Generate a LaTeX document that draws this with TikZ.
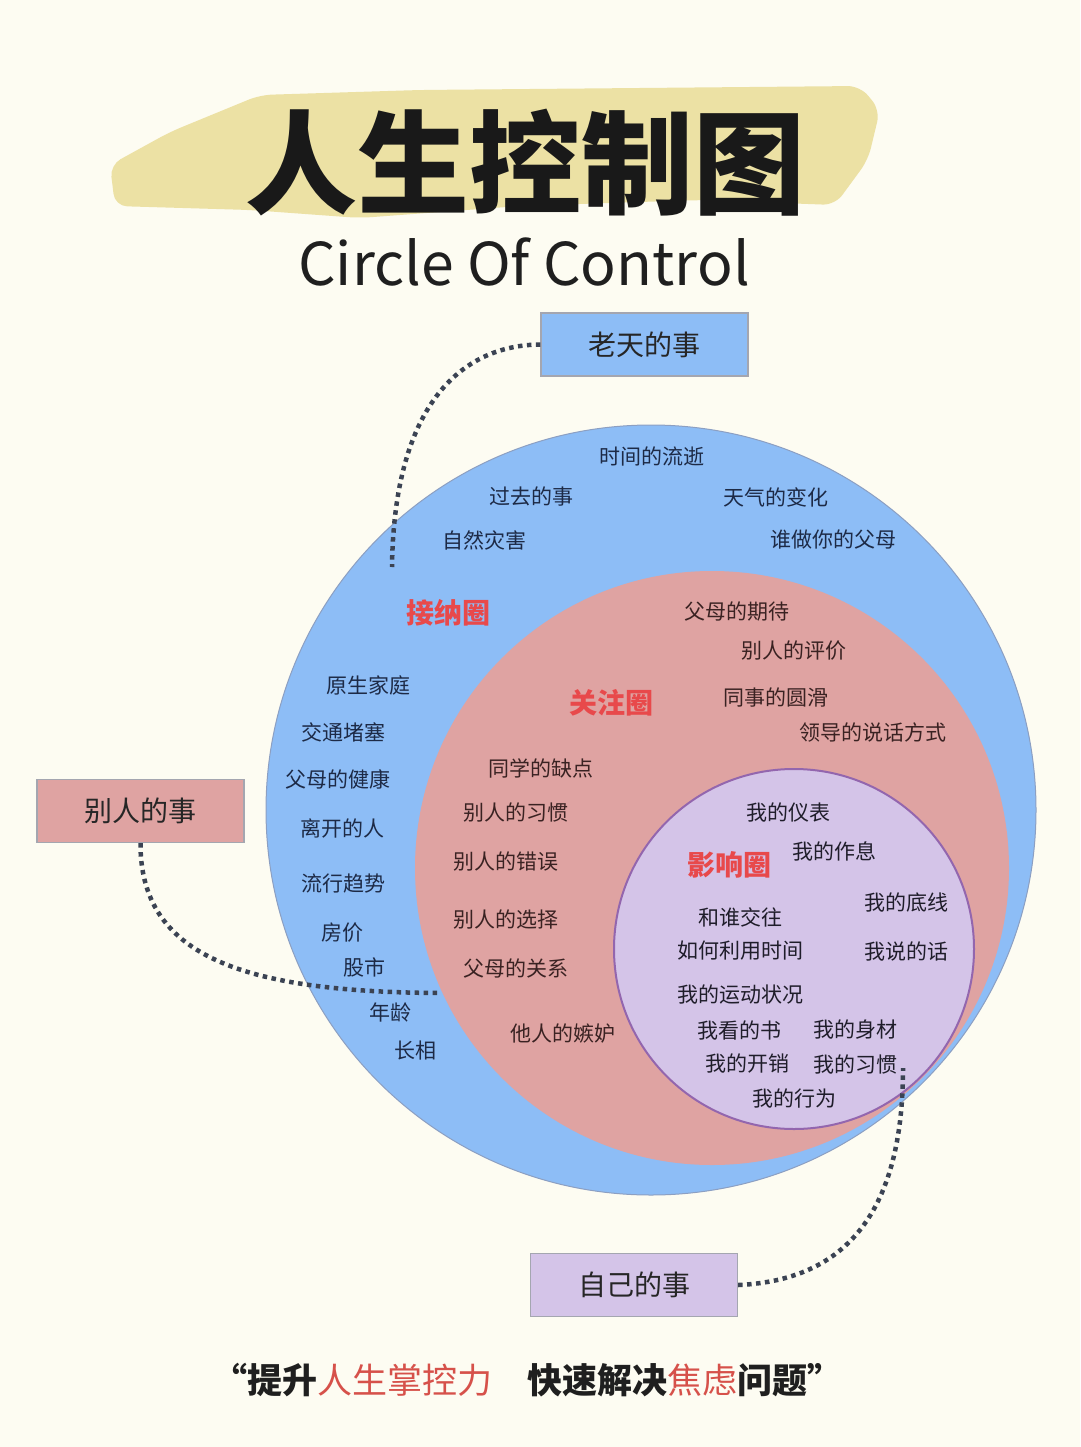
\documentclass[tikz,border=0pt]{standalone}
\usepackage{fontspec}
\setmainfont{Noto Sans CJK SC}
\definecolor{bg}{HTML}{FDFCF2}
\definecolor{hilite}{HTML}{ECE1A4}
\definecolor{blueF}{HTML}{8DBDF6}
\definecolor{blueE}{HTML}{8C9FC2}
\definecolor{pinkF}{HTML}{DFA3A2}
\definecolor{purpF}{HTML}{D4C4E8}
\definecolor{purpE}{HTML}{9366AE}
\definecolor{bluetext}{HTML}{1D2A46}
\definecolor{pinktext}{HTML}{3A2222}
\definecolor{purptext}{HTML}{1F1D2A}
\definecolor{zonered}{HTML}{E8494B}
\definecolor{quotered}{HTML}{D6514A}
\definecolor{dotgrey}{HTML}{3B4353}
\definecolor{boxedge}{HTML}{A4A6B0}
\begin{document}
\begin{tikzpicture}[x=1pt,y=-1pt,
  lbl/.style={inner sep=0pt, font=\fontsize{21}{24}\selectfont},
  bluelbl/.style={lbl, text=bluetext},
  pinklbl/.style={lbl, text=pinktext},
  purplbl/.style={lbl, text=purptext},
  zone/.style={inner sep=0pt, text=zonered, font=\bfseries\fontsize{28}{30}\selectfont},
  tagbox/.style={draw=boxedge, line width=1.2pt, minimum width=207pt, minimum height=63pt, inner sep=0pt, font=\fontsize{28}{32}\selectfont, text=black!85},
  dots/.style={draw=dotgrey, line width=4.5pt, dash pattern=on 4.5pt off 4.5pt},
  ring/.style={circle, inner sep=0pt}]
\useasboundingbox (0,0) rectangle (1080,1447);
\fill[bg] (0,0) rectangle (1080,1447);
% highlight brush stroke
\fill[hilite, rounded corners=12pt] (110,165) -- (170,132) -- (260,95) -- (420,90) -- (640,88) -- (860,86) -- (880,110) -- (868,160) -- (835,205) -- (700,200) -- (520,206) -- (360,218) -- (250,210) -- (115,206) -- cycle;
\node[inner sep=0pt, font=\bfseries\fontsize{112}{120}\selectfont, text=black!90] (title) at (525,163) {人生控制图};
\node[inner sep=0pt, font=\fontsize{59}{66}\selectfont, text=black!88] (subtitle) at (524,262) {Circle Of Control};
% circles
\node[ring, fill=blueF, draw=blueE, line width=1pt, minimum size=770pt] (outer) at (651,810) {};
\node[ring, fill=pinkF, minimum size=594pt] (middle) at (712,868) {};
\node[ring, fill=purpF, draw=purpE, line width=2pt, minimum size=360pt] (inner) at (794,949) {};
% zone labels
\node[zone] (z1) at (448,613) {接纳圈};
\node[zone] (z2) at (611,703) {关注圈};
\node[zone] (z3) at (729,865) {影响圈};
% blue zone
\node[bluelbl] (b1) at (652,456) {时间的流逝};
\node[bluelbl] (b2) at (531,497) {过去的事};
\node[bluelbl] (b3) at (776,497) {天气的变化};
\node[bluelbl] (b4) at (484,540) {自然灾害};
\node[bluelbl] (b5) at (833,540) {谁做你的父母};
\node[bluelbl] (b6) at (368,685) {原生家庭};
\node[bluelbl] (b7) at (343,732) {交通堵塞};
\node[bluelbl] (b8) at (338,779) {父母的健康};
\node[bluelbl] (b9) at (342,828) {离开的人};
\node[bluelbl] (b10) at (343,884) {流行趋势};
\node[bluelbl] (b11) at (342,933) {房价};
\node[bluelbl] (b12) at (364,967) {股市};
\node[bluelbl] (b13) at (390,1012) {年龄};
\node[bluelbl] (b14) at (415,1050) {长相};
% pink zone
\node[pinklbl] (p1) at (737,612) {父母的期待};
\node[pinklbl] (p2) at (794,651) {别人的评价};
\node[pinklbl] (p3) at (776,698) {同事的圆滑};
\node[pinklbl] (p4) at (873,732) {领导的说话方式};
\node[pinklbl] (p5) at (541,768) {同学的缺点};
\node[pinklbl] (p6) at (516,813) {别人的习惯};
\node[pinklbl] (p7) at (506,862) {别人的错误};
\node[pinklbl] (p8) at (506,920) {别人的选择};
\node[pinklbl] (p9) at (516,968) {父母的关系};
\node[pinklbl] (p10) at (563,1034) {他人的嫉妒};
% purple zone
\node[purplbl] (q1) at (788,813) {我的仪表};
\node[purplbl] (q2) at (834,851) {我的作息};
\node[purplbl] (q3) at (906,903) {我的底线};
\node[purplbl] (q4) at (740,917) {和谁交往};
\node[purplbl] (q5) at (740,951) {如何利用时间};
\node[purplbl] (q6) at (906,951) {我说的话};
\node[purplbl] (q7) at (740,995) {我的运动状况};
\node[purplbl] (q8) at (739,1030) {我看的书};
\node[purplbl] (q9) at (855,1030) {我的身材};
\node[purplbl] (q10) at (747,1064) {我的开销};
\node[purplbl] (q11) at (855,1064) {我的习惯};
\node[purplbl] (q12) at (794,1098) {我的行为};
% tag boxes
\node[tagbox, fill=blueF] (heaven) at (644.5,344.5) {老天的事};
\node[tagbox, fill=pinkF] (others) at (140.5,811) {别人的事};
\node[tagbox, fill=purpF] (self) at (634,1285) {自己的事};
% connector ends
\coordinate (hEnd) at (392,567);
\coordinate (oEnd) at (440,993);
\coordinate (sEnd) at (903,1068);
\draw[dots] (heaven.west) .. controls (465,345) and (394,400) .. (hEnd);
\draw[dots] (others.south) .. controls (140,955) and (240,992) .. (oEnd);
\draw[dots] (self.east) .. controls (855,1280) and (903,1200) .. (sEnd);
% bottom slogan
\node[inner sep=0pt, font=\bfseries\fontsize{35}{40}\selectfont, text=black!88] (slogan) at (527,1380)
  {“提升\textcolor{quotered}{\mdseries 人生掌控力}\quad 快速解决\textcolor{quotered}{\mdseries 焦虑}问题”};
\end{tikzpicture}
\end{document}
